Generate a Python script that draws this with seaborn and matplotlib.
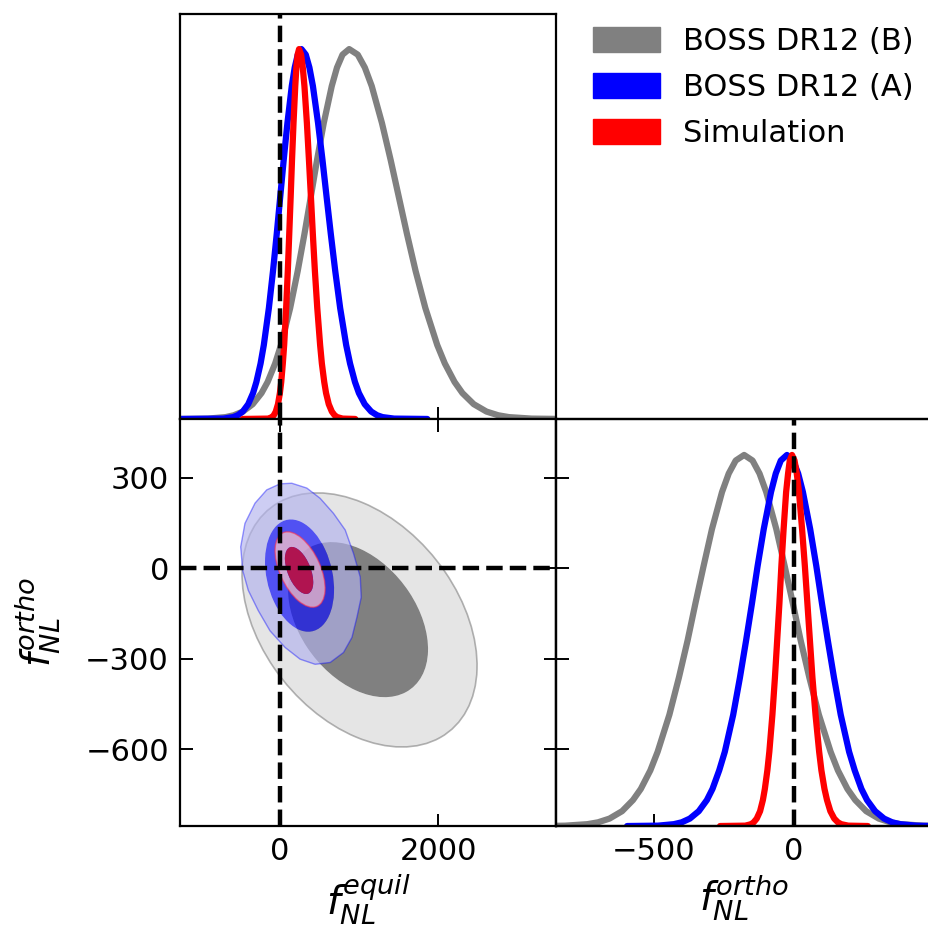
import numpy as np
import matplotlib
matplotlib.use("Agg")
import matplotlib.pyplot as plt
from matplotlib.patches import Patch, PathPatch
from matplotlib.path import Path
from matplotlib.transforms import Affine2D
import seaborn as sns

# ---- 1D marginals of f_NL^equil (peak normalised to 1) ----
eq_b_x = [-1263, -911, -689, -584, -470, -345, -234, -157, -62, 12, 128, 223, 308, 388, 467, 552,
          653, 719, 789, 873, 981, 1071, 1158, 1287, 1397, 1500, 1603, 1712, 1835, 1985, 2081,
          2204, 2303, 2446, 2607, 2755, 2891, 3178, 3485]
eq_b_y = [0.0, 0.001, 0.005, 0.01, 0.02, 0.04, 0.07, 0.1, 0.15, 0.2, 0.3, 0.4, 0.5, 0.6, 0.7, 0.8,
          0.9, 0.95, 0.985, 1.0, 0.985, 0.95, 0.9, 0.8, 0.7, 0.6, 0.5, 0.4, 0.3, 0.2, 0.15,
          0.1, 0.07, 0.04, 0.02, 0.01, 0.005, 0.001, 0.0002]

eq_a_x = [-1263, -715, -593, -534, -471, -402, -341, -299, -246, -205, -141, -89, -42, 2, 46, 93,
          148, 185, 224, 270, 325, 371, 415, 480, 536, 588, 641, 697, 759, 835, 884,
          946, 996, 1069, 1151, 1226, 1295, 1441, 1860]
eq_a_y = [0.0, 0.001, 0.005, 0.01, 0.02, 0.04, 0.07, 0.1, 0.15, 0.2, 0.3, 0.4, 0.5, 0.6, 0.7, 0.8,
          0.9, 0.95, 0.985, 1.0, 0.985, 0.95, 0.9, 0.8, 0.7, 0.6, 0.5, 0.4, 0.3, 0.2, 0.15,
          0.1, 0.07, 0.04, 0.02, 0.01, 0.005, 0.001, 0.0]

eq_s_x = [-470, -150, -102, -79, -54, -26, -2, 15, 35, 52, 77, 98, 116, 134, 151, 170,
          192, 206, 222, 240, 266, 287, 308, 339, 365, 390, 414, 440, 470, 506, 528,
          558, 581, 615, 654, 689, 722, 790, 950]
eq_s_y = [0.0, 0.001, 0.005, 0.01, 0.02, 0.04, 0.07, 0.1, 0.15, 0.2, 0.3, 0.4, 0.5, 0.6, 0.7, 0.8,
          0.9, 0.95, 0.985, 1.0, 0.985, 0.95, 0.9, 0.8, 0.7, 0.6, 0.5, 0.4, 0.3, 0.2, 0.15,
          0.1, 0.07, 0.04, 0.02, 0.01, 0.005, 0.001, 0.0]

# ---- 1D marginals of f_NL^ortho ----
or_b_x = [-850, -817, -738, -700, -659, -614, -575, -547, -513, -487, -445, -411, -380, -352, -323, -293,
          -257, -233, -208, -178, -148, -123, -99, -63, -33, -4, 24, 55, 89, 131, 157,
          191, 219, 258, 303, 344, 382, 461, 493]
or_b_y = [0.0006, 0.001, 0.005, 0.01, 0.02, 0.04, 0.07, 0.1, 0.15, 0.2, 0.3, 0.4, 0.5, 0.6, 0.7, 0.8,
          0.9, 0.95, 0.985, 1.0, 0.985, 0.95, 0.9, 0.8, 0.7, 0.6, 0.5, 0.4, 0.3, 0.2, 0.15,
          0.1, 0.07, 0.04, 0.02, 0.01, 0.005, 0.001, 0.0006]

or_a_x = [-596, -486, -429, -401, -372, -340, -311, -291, -267, -247, -217, -193, -171, -150, -130, -108,
          -82, -65, -47, -25, -3, 15, 32, 58, 80, 100, 121, 143, 167, 197, 217,
          241, 261, 290, 322, 351, 379, 436, 493]
or_a_y = [0.0, 0.001, 0.005, 0.01, 0.02, 0.04, 0.07, 0.1, 0.15, 0.2, 0.3, 0.4, 0.5, 0.6, 0.7, 0.8,
          0.9, 0.95, 0.985, 1.0, 0.985, 0.95, 0.9, 0.8, 0.7, 0.6, 0.5, 0.4, 0.3, 0.2, 0.15,
          0.1, 0.07, 0.04, 0.02, 0.01, 0.005, 0.001, 0.0001]

or_s_x = [-264, -174, -153, -144, -133, -121, -111, -104, -95, -88, -77, -68, -60, -52, -45, -37,
          -28, -21, -15, -7, 2, 10, 18, 29, 39, 48, 57, 66, 77, 90, 98,
          109, 118, 130, 144, 157, 169, 194, 264]
or_s_y = [0.0, 0.001, 0.005, 0.01, 0.02, 0.04, 0.07, 0.1, 0.15, 0.2, 0.3, 0.4, 0.5, 0.6, 0.7, 0.8,
          0.9, 0.95, 0.985, 1.0, 0.985, 0.95, 0.9, 0.8, 0.7, 0.6, 0.5, 0.4, 0.3, 0.2, 0.15,
          0.1, 0.07, 0.04, 0.02, 0.01, 0.005, 0.001, 0.0]

# ---- 2D contours (centre, half extent in x / y, correlation) ----
# 0 B outer, 1 B inner, 2 A inner, 3 Sim outer, 4 Sim inner
ell_cx = [1004, 985, 246, 253, 240]
ell_cy = [-171, -170, -24, -4, -7]
ell_wx = [1484, 884, 436, 316, 179]
ell_wy = [421, 257, 186, 125, 78]
ell_rho = [-0.36, -0.38, -0.25, -0.5, -0.5]

# A outer contour is not quite elliptical
a_out_x = [148, 338, 506, 675, 823, 928, 1013, 1025, 971, 908, 801, 633, 443, 253,
           63, -127, -275, -401, -472, -497, -443, -316, -168, 0]
a_out_y = [282, 266, 232, 182, 127, 49, -29, -96, -162, -229, -279, -312, -318, -301,
           -262, -207, -140, -73, -7, 71, 149, 216, 260, 280]

labels = ["BOSS DR12 (B)", "BOSS DR12 (A)", "Simulation"]
colors = ["#808080", "#0000ff", "#ff0000"]

eq_ticks = [0, 2000]
or_ticks = [-500, 0]
or2d_ticks = [300, 0, -300, -600]
eq_lim = (-1263, 3485)
or_lim = (-854, 495)
orx_lim = (-850, 493)


def ellipse_verts(i, reverse=False):
    w, h, r = ell_wx[i], ell_wy[i], ell_rho[i]
    cov = np.array([[w * w, r * w * h], [r * w * h, h * h]])
    vals, vecs = np.linalg.eigh(cov)
    ang = np.degrees(np.arctan2(vecs[1, 1], vecs[0, 1]))
    tr = (Affine2D().scale(np.sqrt(vals[1]), np.sqrt(vals[0]))
          .rotate_deg(ang).translate(ell_cx[i], ell_cy[i]))
    circ = Path.unit_circle()
    verts = tr.transform(circ.vertices[:-1])
    codes = list(circ.codes[:-1])
    if reverse:
        verts = verts[::-1]
    return verts, codes


def polygon_verts(xs, ys):
    verts = np.column_stack([xs + xs[:1], ys + ys[:1]])
    codes = [Path.MOVETO] + [Path.LINETO] * (len(xs) - 1) + [Path.CLOSEPOLY]
    return verts, codes


def signed_area(v):
    return 0.5 * np.sum(v[:-1, 0] * v[1:, 1] - v[1:, 0] * v[:-1, 1])


def ring(outer, inner):
    vo, co = outer
    vi, ci = inner
    if np.sign(signed_area(vo)) == np.sign(signed_area(vi)):
        vi = vi[::-1]
    return Path(np.concatenate([vo, vi]), co + ci)


sns.set_theme(style="ticks", rc={
    "axes.edgecolor": "black",
    "axes.linewidth": 1.6,
    "text.color": "black",
    "axes.labelcolor": "black",
    "xtick.color": "black",
    "ytick.color": "black",
    "xtick.direction": "in",
    "ytick.direction": "in",
    "xtick.major.size": 9,
    "ytick.major.size": 9,
    "xtick.major.width": 1.4,
    "ytick.major.width": 1.4,
    "xtick.major.pad": 8,
    "ytick.major.pad": 8,
})
plt.rcParams["font.family"] = ["DejaVu Sans"]

fig = plt.figure(figsize=(9.29, 9.30), dpi=100)
ax_eq = fig.add_axes([0.1938, 0.5495, 0.4047, 0.4355])
ax_2d = fig.add_axes([0.1938, 0.1118, 0.4047, 0.4377])
ax_or = fig.add_axes([0.5985, 0.1118, 0.4047, 0.4377])

# top-left: equil marginal
for xs, ys, c in [(eq_b_x, eq_b_y, colors[0]), (eq_a_x, eq_a_y, colors[1]), (eq_s_x, eq_s_y, colors[2])]:
    sns.lineplot(x=xs, y=ys, ax=ax_eq, color=c, linewidth=4.5, sort=False)
ax_eq.axvline(0, color="black", ls="--", lw=3.2)
ax_eq.set_xlim(eq_lim)
ax_eq.set_ylim(0, 1.095)
ax_eq.set_xticks(eq_ticks)
ax_eq.set_yticks([])
ax_eq.tick_params(axis="x", labelbottom=False)

# bottom-left: 2D contours, outer band drawn as a ring around the inner region
b_out, b_in = ellipse_verts(0), ellipse_verts(1)
ax_2d.add_patch(PathPatch(ring(b_out, b_in), facecolor="#808080", alpha=0.2, edgecolor="none", zorder=1))
ax_2d.add_patch(PathPatch(Path(*b_out), facecolor="none", edgecolor="#808080", alpha=0.6, lw=1.2, zorder=1))
ax_2d.add_patch(PathPatch(Path(*b_in), facecolor="#808080", edgecolor="none", zorder=2))

a_out, a_in = polygon_verts(a_out_x, a_out_y), ellipse_verts(2)
ax_2d.add_patch(PathPatch(ring(a_out, a_in), facecolor="#b2b2ed", alpha=0.65, edgecolor="none", zorder=3))
ax_2d.add_patch(PathPatch(Path(*a_out), facecolor="none", edgecolor="#0000ff", alpha=0.4, lw=1.0, zorder=3))
ax_2d.add_patch(PathPatch(Path(*a_in), facecolor="#0f0ff8", alpha=0.69, edgecolor="none", zorder=4))

s_out, s_in = ellipse_verts(3), ellipse_verts(4)
ax_2d.add_patch(PathPatch(ring(s_out, s_in), facecolor="#ffc8c8", alpha=0.72, edgecolor="none", zorder=5))
ax_2d.add_patch(PathPatch(Path(*s_out), facecolor="none", edgecolor="#ff3050", alpha=0.6, lw=1.0, zorder=5))
ax_2d.add_patch(PathPatch(Path(*s_in), facecolor="#b01450", edgecolor="none", zorder=6))

ax_2d.axvline(0, color="black", ls="--", lw=3.2, zorder=10)
ax_2d.axhline(0, color="black", ls="--", lw=3.2, zorder=10)
ax_2d.set_xlim(eq_lim)
ax_2d.set_ylim(or_lim)
ax_2d.set_xticks(eq_ticks)
ax_2d.set_yticks(or2d_ticks)
ax_2d.tick_params(top=True, right=True, labelsize=22)
ax_2d.set_xlabel(r"$f_{NL}^{equil}$", fontsize=28, labelpad=4)
ax_2d.set_ylabel(r"$f_{NL}^{ortho}$", fontsize=28, labelpad=16)

# bottom-right: ortho marginal
for xs, ys, c in [(or_b_x, or_b_y, colors[0]), (or_a_x, or_a_y, colors[1]), (or_s_x, or_s_y, colors[2])]:
    sns.lineplot(x=xs, y=ys, ax=ax_or, color=c, linewidth=4.5, sort=False)
ax_or.axvline(0, color="black", ls="--", lw=3.2)
ax_or.set_xlim(orx_lim)
ax_or.set_ylim(0, 1.097)
ax_or.set_xticks(or_ticks)
ax_or.set_yticks([])
ax_or.tick_params(axis="x", labelsize=22)
ax_or.set_xlabel(r"$f_{NL}^{ortho}$", fontsize=28, labelpad=4)
tw = ax_or.twinx()
tw.set_ylim(or_lim)
tw.set_yticks(or2d_ticks)
tw.tick_params(axis="y", left=True, right=False, labelleft=False, labelright=False)

handles = [Patch(facecolor=c, edgecolor=c) for c in colors]
fig.legend(handles, labels, loc="upper left", bbox_to_anchor=(0.638, 0.971),
           frameon=False, fontsize=22, handlelength=2.2, handleheight=0.9,
           handletextpad=0.75, labelspacing=0.55, borderpad=0, borderaxespad=0)

fig.savefig("out.png", dpi=100)
